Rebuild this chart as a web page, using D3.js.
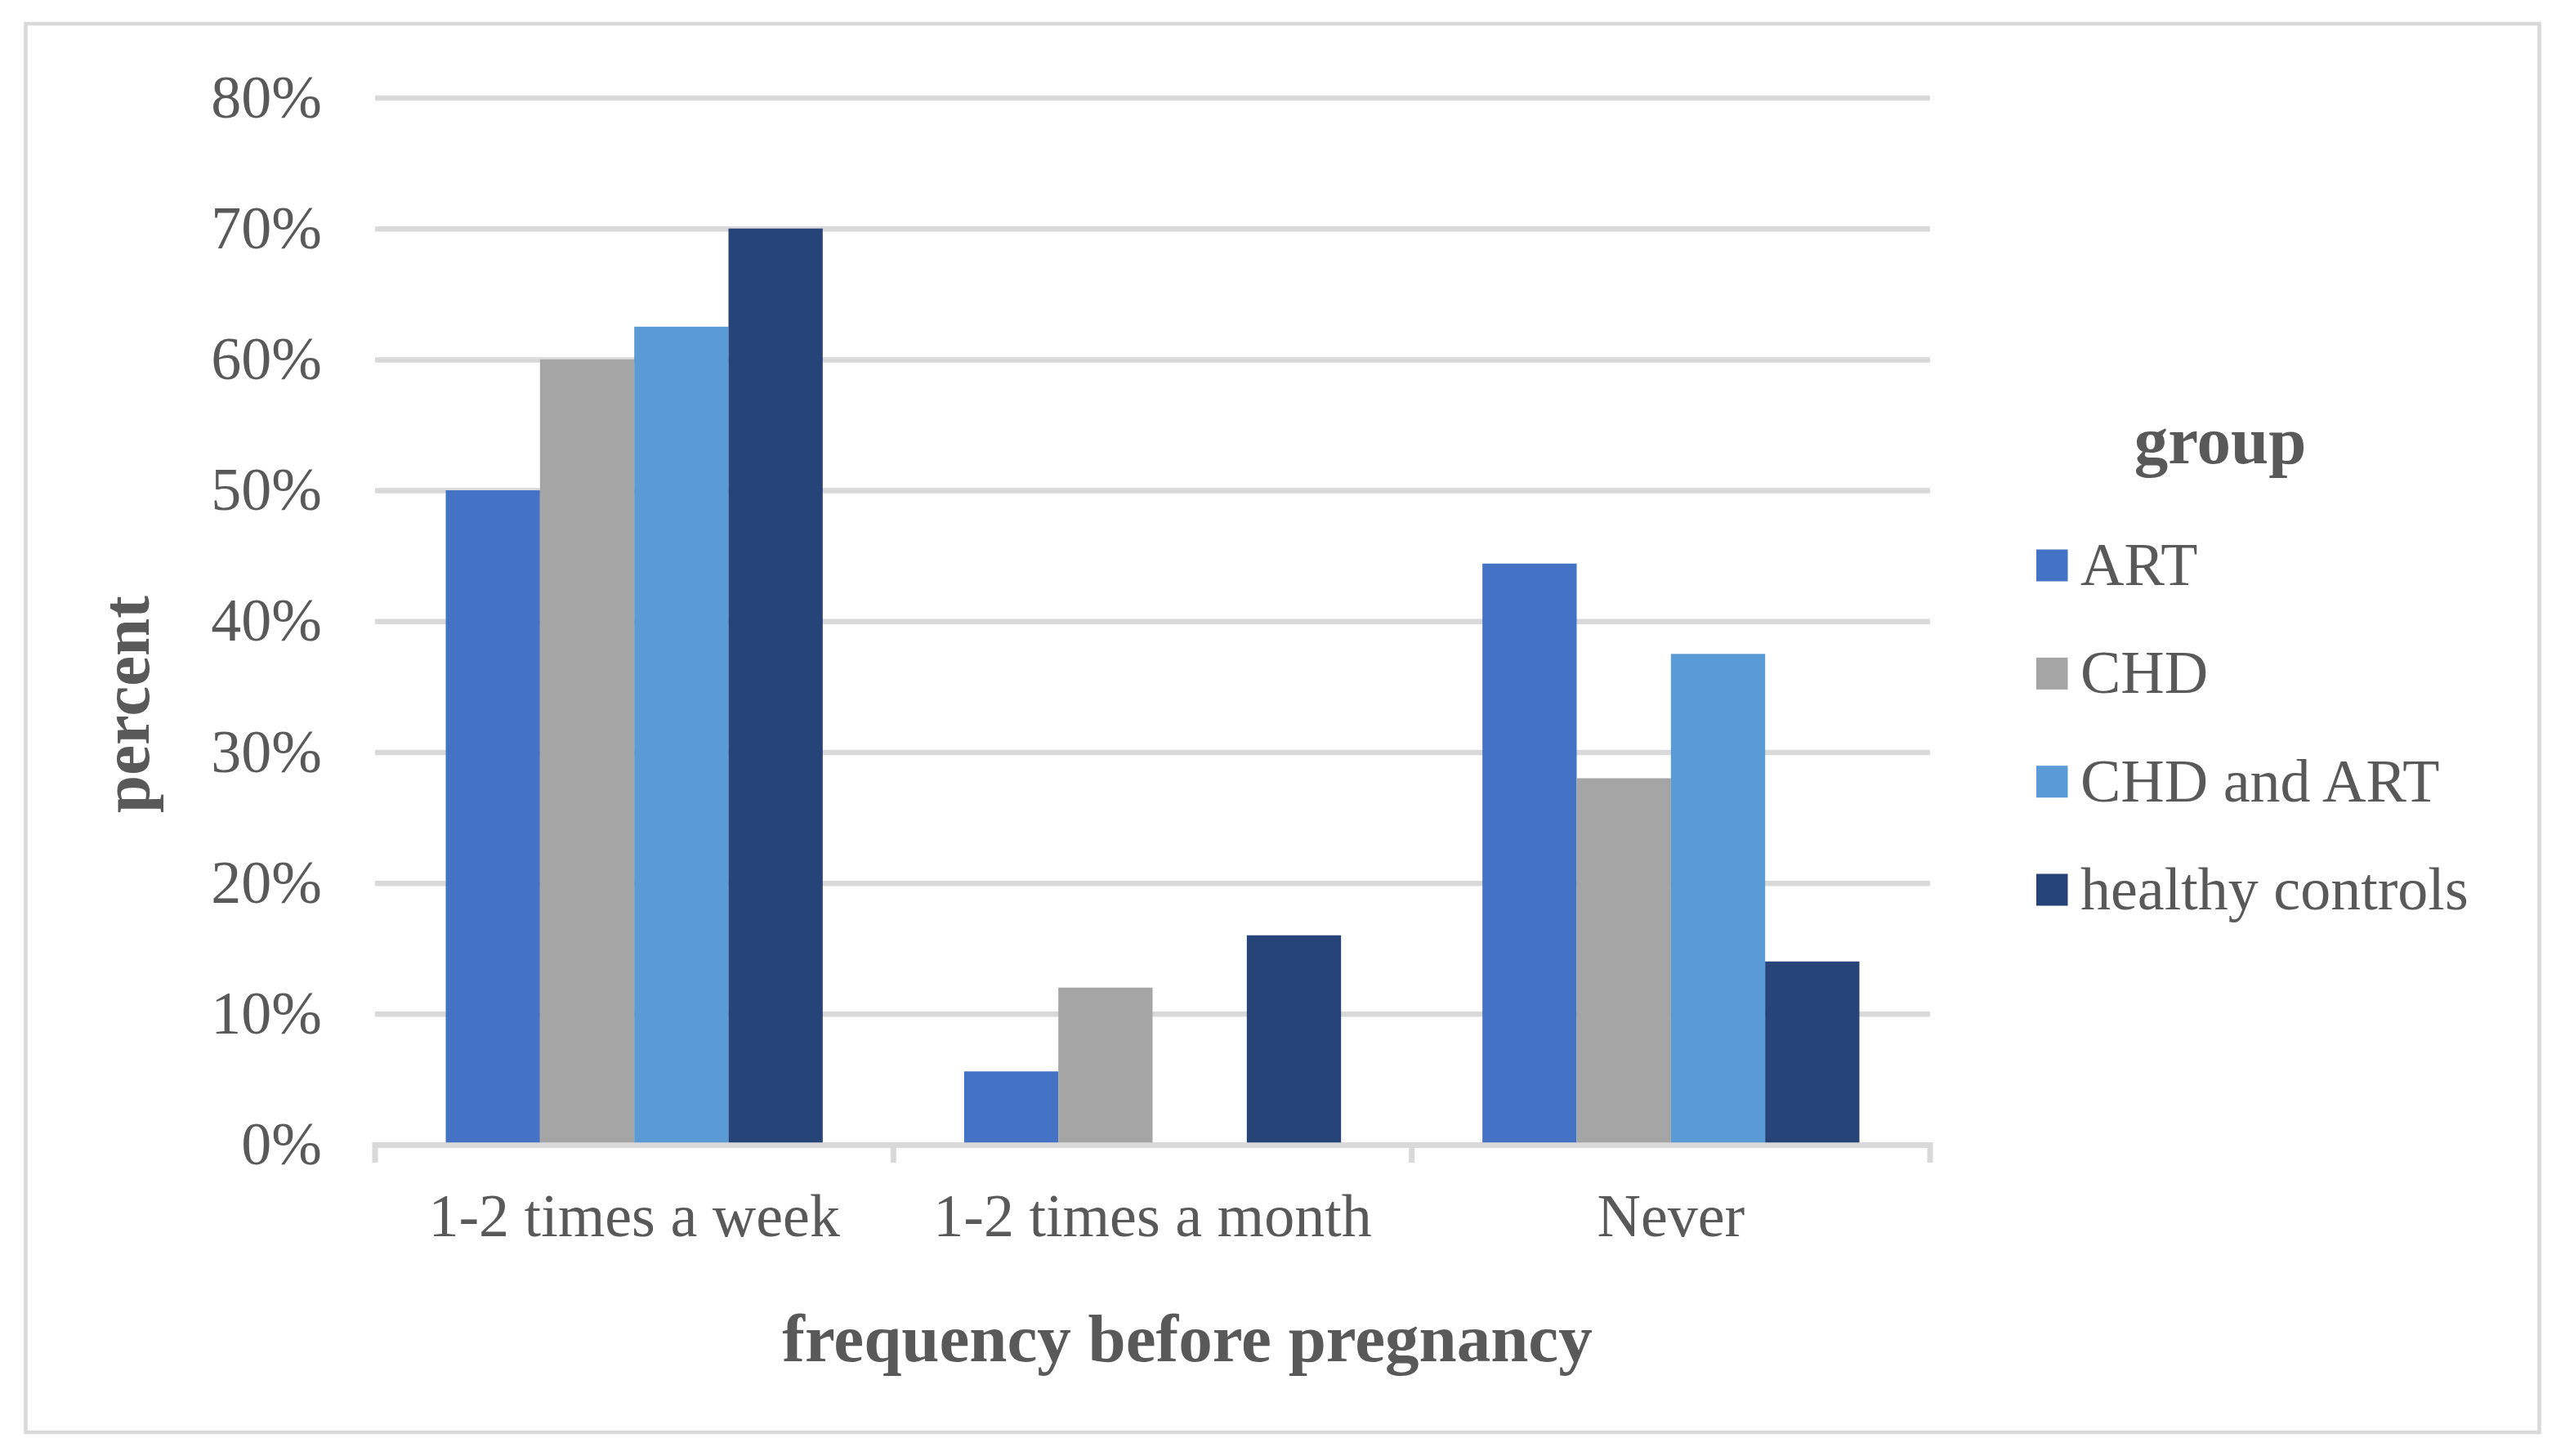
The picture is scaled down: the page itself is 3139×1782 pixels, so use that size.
<!DOCTYPE html>
<html>
<head>
<meta charset="utf-8">
<script src="https://cdn.jsdelivr.net/npm/d3@7"></script>
<style>
  html, body { margin: 0; padding: 0; background: #fff; }
  svg { display: block; }
  text { font-family: "Liberation Serif", "Times New Roman", serif; fill: #595959; }
</style>
</head>
<body>
<svg id="chart"></svg>
<script>
// data
const categories = ["1-2 times a week", "1-2 times a month", "Never"];
const groups = ["ART", "CHD", "CHD and ART", "healthy controls"];
const art = [0.5, 0.056, 0.444];
const chd = [0.6, 0.12, 0.28];
const chdArt = [0.625, 0, 0.375];
const healthy = [0.7, 0.16, 0.14];
const yTicks = [0, 0.1, 0.2, 0.3, 0.4, 0.5, 0.6, 0.7, 0.8];
const colors = ["#4472C4", "#A5A5A5", "#5B9BD5", "#264478"];

(function () {
  const W = 3139, H = 1782;
  const svg = d3.select("#chart").attr("width", W).attr("height", H);

  // outer frame
  svg.append("rect")
    .attr("x", 31.5).attr("y", 29).attr("width", 3076).attr("height", 1724)
    .attr("fill", "#fff").attr("stroke", "#D9D9D9").attr("stroke-width", 4.5);

  const plot = { left: 459, right: 2362, top: 119.5, bottom: 1401 };

  const y = d3.scaleLinear().domain([0, 0.8]).range([plot.bottom, plot.top]);
  const x0 = d3.scaleBand().domain(categories).range([plot.left, plot.right]).padding(0);
  // gap width 150% -> 4 bars + 1.5 bar widths per category
  const gap = x0.bandwidth() * 0.75 / 5.5;
  const x1 = d3.scaleBand().domain(groups).range([gap, x0.bandwidth() - gap]).padding(0);

  // gridlines
  const grid = svg.append("g")
    .attr("transform", `translate(${plot.left},0)`)
    .call(d3.axisLeft(y).tickValues(yTicks).tickSize(-(plot.right - plot.left)).tickFormat(""));
  grid.select(".domain").remove();
  grid.selectAll("line").attr("stroke", "#D9D9D9").attr("stroke-width", 6.5);

  // y labels
  const yAx = svg.append("g")
    .attr("transform", `translate(${plot.left},0)`)
    .call(d3.axisLeft(y).tickValues(yTicks).tickSize(0).tickPadding(65).tickFormat(d3.format(".0%")));
  yAx.select(".domain").remove();
  yAx.selectAll("text")
    .attr("font-size", 74)
    .attr("font-family", "Liberation Serif, Times New Roman, serif")
    .attr("fill", "#595959")
    .attr("dy", "0.32em");

  // bars
  const series = [art, chd, chdArt, healthy];
  const rows = categories.map((c, i) => ({
    cat: c,
    vals: groups.map((g, j) => ({ g: g, v: series[j][i], color: colors[j] })),
  }));

  svg.append("g")
    .selectAll("g")
    .data(rows)
    .join("g")
    .attr("transform", (d) => `translate(${x0(d.cat)},0)`)
    .selectAll("rect")
    .data((d) => d.vals)
    .join("rect")
    .attr("x", (d) => x1(d.g))
    .attr("width", x1.bandwidth())
    .attr("y", (d) => y(d.v))
    .attr("height", (d) => y(0) - y(d.v))
    .attr("fill", (d) => d.color);

  // x axis
  const xAx = svg.append("g")
    .attr("transform", `translate(0,${plot.bottom})`)
    .call(d3.axisBottom(x0).tickSize(0).tickPadding(60));
  xAx.select(".domain").attr("stroke", "#D9D9D9").attr("stroke-width", 6.5);
  xAx.selectAll("text")
    .attr("font-size", 74)
    .attr("font-family", "Liberation Serif, Times New Roman, serif")
    .attr("fill", "#595959")
    .attr("y", 112).attr("dy", 0);

  // tick marks at category boundaries
  const bounds = categories.map((c) => x0(c)).concat([plot.right]);
  svg.append("g")
    .selectAll("line")
    .data(bounds)
    .join("line")
    .attr("x1", (d) => d).attr("x2", (d) => d)
    .attr("y1", plot.bottom - 3).attr("y2", plot.bottom + 22)
    .attr("stroke", "#D9D9D9").attr("stroke-width", 7);

  // axis titles
  svg.append("text")
    .attr("x", 1453).attr("y", 1666)
    .attr("text-anchor", "middle")
    .attr("font-size", 83).attr("font-weight", "bold")
    .text("frequency before pregnancy");

  svg.append("text")
    .attr("transform", "translate(182,862) rotate(-90)")
    .attr("text-anchor", "middle")
    .attr("font-size", 83).attr("font-weight", "bold")
    .text("percent");

  // legend
  svg.append("text")
    .attr("x", 2717).attr("y", 567)
    .attr("text-anchor", "middle")
    .attr("font-size", 83).attr("font-weight", "bold")
    .text("group");

  const legY = d3.scalePoint().domain(groups).range([692, 1089]);
  const item = svg.append("g")
    .selectAll("g")
    .data(groups)
    .join("g")
    .attr("transform", (d) => `translate(2492,${legY(d)})`);
  item.append("rect")
    .attr("x", 0).attr("y", -19.5).attr("width", 38.5).attr("height", 39)
    .attr("fill", (d, i) => colors[i]);
  item.append("text")
    .attr("x", 54).attr("y", 24)
    .attr("font-size", 74)
    .text((d) => d);
})();
</script>
</body>
</html>
